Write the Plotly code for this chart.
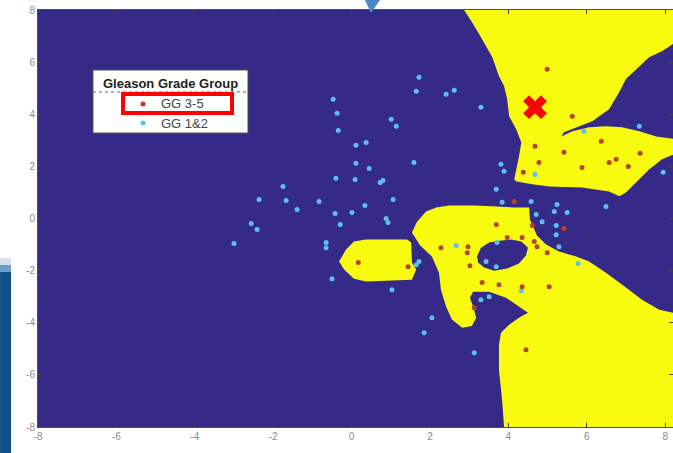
import plotly.graph_objects as go

# ---------------- data ----------------
# GG 3-5 (red points)
gg35_x = [4.99, 5.63, 4.68, 5.42, 6.37, 4.78, 4.38, 5.88, 6.57, 6.75, 7.06, 7.36,
          3.69, 3.97, 4.35, 4.61, 4.66, 4.73, 4.99, 2.28, 2.97, 2.95, 3.02, 3.33,
          3.76, 4.35, 5.04, 3.13, 4.45, 0.17, 1.44, 4.15, 5.42]
gg35_y = [5.73, 3.92, 2.77, 2.54, 2.96, 2.15, 1.77, 1.96, 2.15, 2.27, 2.00, 2.50,
          -0.23, -0.73, -0.73, -0.27, -0.88, -1.08, -1.31, -1.12, -1.08, -1.31, -1.81, -2.46,
          -2.54, -2.62, -2.62, -3.42, -5.04, -1.69, -1.85, 0.65, -0.38]

# GG 1&2 (cyan points)
gg12_x = [1.72, 1.65, 2.41, 2.62, -0.47, -0.37, 1.01, 1.14, 3.30, -0.34, 0.11, 0.37,
          1.59, 0.11, 0.45, -0.40, 0.09, 0.73, 0.80, -1.75, -2.36, -1.67, -0.83, 1.06,
          -1.39, 0.34, -0.42, 0.01, -0.29, -2.56, -2.41, 0.88, 0.93, -3.00, -0.65, -0.65,
          -0.50, 1.03, 1.72, 1.65, 5.93, 7.34, 3.81, 3.89, 3.69, 4.68, 7.95, 3.84,
          4.58, 5.24, 6.49, 4.71, 5.17, 5.50, 4.86, 5.22, 5.22, 5.29, 3.71, 3.43,
          3.69, 2.67, 4.33, 5.78, 3.30, 3.51, 3.13, 2.05, 1.85]
gg12_y = [5.42, 4.88, 4.77, 4.92, 4.58, 4.04, 3.81, 3.54, 4.27, 3.38, 2.81, 2.92,
          2.15, 2.12, 1.92, 1.54, 1.50, 1.38, 1.46, 1.23, 0.73, 0.69, 0.65, 0.73,
          0.35, 0.50, 0.19, 0.23, -0.23, -0.19, -0.42, 0.00, -0.15, -0.96, -0.92, -1.12,
          -2.31, -2.73, -1.65, -1.77, 3.35, 3.54, 2.08, 1.81, 1.12, 1.69, 1.77, 0.62,
          0.65, 0.54, 0.46, 0.15, 0.27, 0.23, -0.12, -0.27, -0.62, -1.08, -0.92, -1.65,
          -1.85, -1.04, -2.77, -1.73, -3.12, -3.00, -5.15, -3.81, -4.38]

# highlighted query point
query_x = [4.68]
query_y = [4.27]

# decision-region boundaries (class GG 3-5 region)
region_a_x = [2.87, 3.07, 3.33, 3.59, 3.76, 3.89, 3.97, 4.02, 4.20, 4.33, 4.27, 4.20, 4.15,
              4.20, 4.61, 5.04, 5.88, 6.57, 6.83, 7.00, 7.26, 7.59, 7.92, 8.20,
              8.20, 7.77, 7.34, 6.90, 6.50, 6.06, 5.63, 5.35,
              5.42, 5.73, 6.14, 6.57, 6.83, 7.00, 7.26, 7.59, 7.92, 8.20, 8.20]
region_a_y = [8.00, 7.54, 6.88, 6.19, 5.46, 5.08, 4.58, 3.92, 3.42, 2.92, 2.38, 1.88, 1.50,
              1.42, 1.31, 1.23, 1.19, 1.04, 0.85, 1.00, 1.38, 1.88, 2.27, 2.45,
              3.06, 3.15, 3.35, 3.50, 3.54, 3.50, 3.35, 3.15,
              3.31, 3.50, 3.73, 4.19, 4.85, 5.35, 5.73, 6.19, 6.42, 6.70, 8.00]

region_b_x = [1.54, 1.67, 1.90, 2.16, 2.49, 3.13, 3.69, 4.15, 4.53, 4.55, 4.73, 4.96,
              5.29, 5.73, 6.06, 6.49, 7.00, 7.41, 7.85, 8.20, 8.20, 3.89, 3.84, 3.76,
              3.76, 3.81, 4.02, 4.27, 4.50, 4.27, 3.94, 3.51, 3.10, 3.02, 3.10, 3.18,
              3.07, 2.82, 2.56, 2.41, 2.28, 2.23, 2.05, 1.75]
region_b_y = [-0.54, -0.12, 0.27, 0.42, 0.50, 0.50, 0.46, 0.42, 0.42, -0.04, -0.65, -1.00,
              -1.27, -1.46, -1.65, -2.08, -2.65, -3.12, -3.50, -3.62, -8.00, -8.00, -6.96, -5.81,
              -4.85, -4.38, -4.08, -3.81, -3.62, -3.38, -3.04, -2.81, -2.81, -3.04, -3.38, -3.81,
              -4.12, -4.19, -3.88, -3.38, -2.73, -2.08, -1.46, -1.04]

hole_b_x = [3.20, 3.30, 3.51, 3.76, 4.07, 4.33, 4.50, 4.45, 4.27, 3.97, 3.64, 3.38, 3.23]
hole_b_y = [-1.46, -1.12, -0.92, -0.85, -0.81, -0.88, -1.12, -1.42, -1.73, -1.92, -2.00, -1.88, -1.69]

region_c_x = [-0.32, -0.14, 0.06, 0.37, 0.96, 1.42, 1.52, 1.54, 1.65, 1.54, 0.37, 0.06, -0.19]
region_c_y = [-1.65, -1.19, -0.88, -0.81, -0.81, -0.81, -0.92, -1.69, -1.96, -2.35, -2.42, -2.31, -1.96]

x_range = [-8, 8.2]
y_range = [-8, 8]
tick_vals = [-8, -6, -4, -2, 0, 2, 4, 6, 8]
tick_text = ["-8", "-6", "-4", "-2", "0", "2", "4", "6", "8"]

legend_title = "Gleason Grade Group"
legend_names = ["GG 3-5", "GG 1&2"]

# ---------------- styles ----------------
BLUE = "#352a87"
YELLOW = "#f9fb0e"
RED_PT = "#b8451f"
CYAN_PT = "#5cc0ea"

fig = go.Figure()

for rx, ry in [(region_a_x, region_a_y), (region_b_x, region_b_y), (region_c_x, region_c_y)]:
    fig.add_trace(go.Scatter(x=rx, y=ry, mode="lines", fill="toself", fillcolor=YELLOW,
                             line=dict(width=0, color=YELLOW), hoverinfo="skip", showlegend=False))
fig.add_trace(go.Scatter(x=hole_b_x, y=hole_b_y, mode="lines", fill="toself", fillcolor=BLUE,
                         line=dict(width=0, color=BLUE), hoverinfo="skip", showlegend=False))

fig.add_trace(go.Scatter(x=gg12_x, y=gg12_y, mode="markers", name=legend_names[1],
                         marker=dict(size=5, color=CYAN_PT), showlegend=False))
fig.add_trace(go.Scatter(x=gg35_x, y=gg35_y, mode="markers", name=legend_names[0],
                         marker=dict(size=5, color=RED_PT), showlegend=False))
fig.add_trace(go.Scatter(x=query_x, y=query_y, mode="markers",
                         marker=dict(symbol="x", size=21, color="#ff0000", line=dict(width=0)),
                         showlegend=False))

axis_common = dict(tickvals=tick_vals, ticktext=tick_text, ticks="inside",
                   ticklen=4, tickcolor="#444444", showgrid=False, zeroline=False,
                   showline=True, linecolor="#4a4a66", linewidth=1, mirror="ticks",
                   automargin=False,
                   tickfont=dict(family="Arial", size=10, color="#8a8a8a"))

fig.update_layout(
    width=673, height=453,
    margin=dict(l=38, r=0, t=10, b=26),
    plot_bgcolor=BLUE, paper_bgcolor="white",
    xaxis=dict(range=x_range, **axis_common),
    yaxis=dict(range=y_range, **axis_common),
    showlegend=False,
)

# --- manual legend (paper coordinates) ---
shapes = [
    dict(type="rect", xref="paper", yref="paper", x0=0.0866, x1=0.3307, y0=0.705, y1=0.8561,
         fillcolor="white", line=dict(color="#555555", width=1), layer="above"),
    dict(type="line", xref="paper", yref="paper", x0=0.0866, x1=0.3307, y0=0.8034, y1=0.8034,
         line=dict(color="#666666", width=1, dash="dot"), layer="above"),
    dict(type="circle", xref="paper", yref="paper", xsizemode="pixel", ysizemode="pixel",
         xanchor=0.1654, yanchor=0.7746, x0=-2.5, x1=2.5, y0=-2.5, y1=2.5,
         fillcolor="#c0392b", line=dict(width=0), layer="above"),
    dict(type="circle", xref="paper", yref="paper", xsizemode="pixel", ysizemode="pixel",
         xanchor=0.1654, yanchor=0.729, x0=-2.5, x1=2.5, y0=-2.5, y1=2.5,
         fillcolor="#3fd3d8", line=dict(width=0), layer="above"),
    dict(type="rect", xref="paper", yref="paper", x0=0.1339, x1=0.3055, y0=0.753, y1=0.7986,
         line=dict(color="#ff0000", width=4), layer="above"),
    # slide decorations outside the axes
    dict(type="path", xref="paper", yref="paper",
         path="M 0.5150 1.024 L 0.5386 1.024 L 0.5244 0.9928 Z",
         fillcolor="#4a88c8", line=dict(width=0)),
    dict(type="rect", xref="paper", yref="paper", x0=-0.0598, x1=-0.0425, y0=0.3885, y1=0.4053,
         fillcolor="#d3dfec", line=dict(width=0)),
    dict(type="rect", xref="paper", yref="paper", x0=-0.0598, x1=-0.0425, y0=0.3717, y1=0.3885,
         fillcolor="#6f9cc8", line=dict(width=0)),
    dict(type="rect", xref="paper", yref="paper", x0=-0.0598, x1=-0.0425, y0=-0.0624, y1=0.3717,
         fillcolor="#0f5088", line=dict(width=0)),
]
fig.update_layout(shapes=shapes)

fig.add_annotation(xref="paper", yref="paper", x=0.2087, y=0.8249, text="<b>" + legend_title + "</b>",
                   showarrow=False, xanchor="center", yanchor="middle",
                   font=dict(family="Arial", size=13, color="#222222"))
fig.add_annotation(xref="paper", yref="paper", x=0.1906, y=0.7746, text=legend_names[0],
                   showarrow=False, xanchor="left", yanchor="middle",
                   font=dict(family="Arial", size=13, color="#444444"))
fig.add_annotation(xref="paper", yref="paper", x=0.1906, y=0.729, text=legend_names[1],
                   showarrow=False, xanchor="left", yanchor="middle",
                   font=dict(family="Arial", size=13, color="#444444"))

fig.write_html("out.html", config={"displayModeBar": False},
               post_script="document.body.style.margin='0';")
